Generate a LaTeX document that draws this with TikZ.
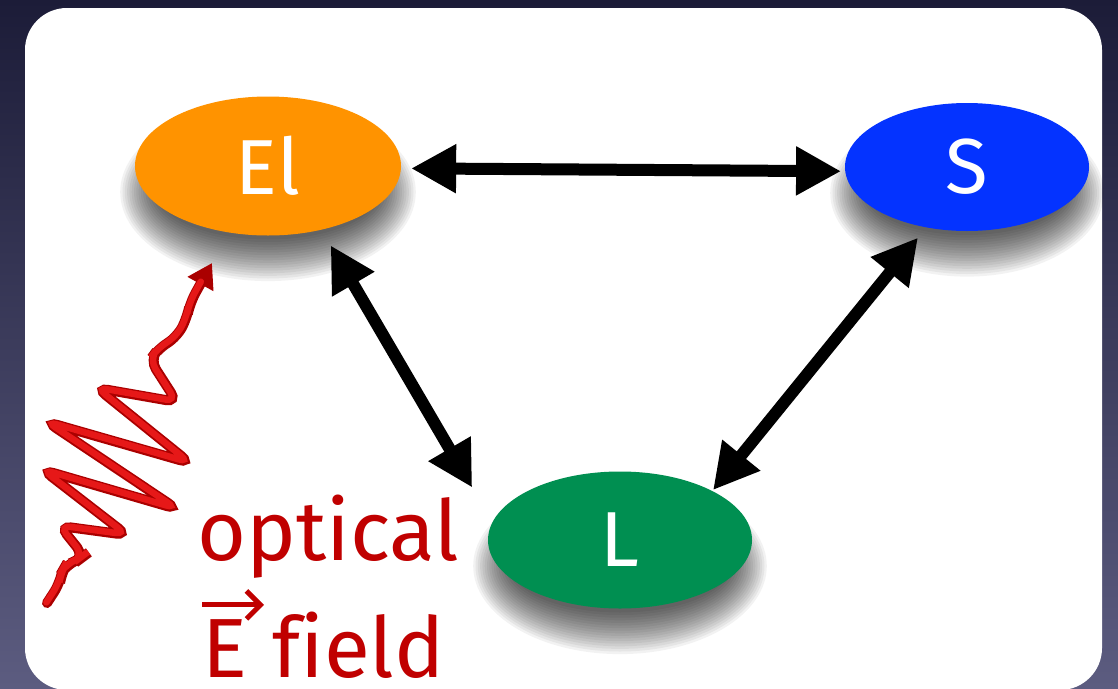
\documentclass[tikz,border=0pt]{standalone}
\usepackage{fontspec}
\setmainfont{Fira Sans}[Ligatures=NoCommon]
\usetikzlibrary{arrows.meta,shapes.geometric}
\definecolor{elorange}{RGB}{255,147,0}
\definecolor{sblue}{RGB}{4,51,255}
\definecolor{lgreen}{RGB}{0,143,81}
\definecolor{txtred}{RGB}{192,0,0}
\definecolor{bgtop}{RGB}{28,28,56}
\definecolor{bgbot}{RGB}{92,92,128}
\definecolor{wavedark}{RGB}{170,0,0}
\definecolor{wavemid}{RGB}{230,24,24}
\begin{document}
\begin{tikzpicture}[x=1pt,y=-1pt,
  blob/.style={ellipse, inner sep=0pt, text=white, font=\fontsize{78}{80}\selectfont},
  shadowlayer/.style={fill=black, opacity=0.05},
  dbl/.style={line width=12pt, {Triangle[length=45pt,width=46pt]}-{Triangle[length=45pt,width=46pt]}},
  lbl/.style={text=txtred, font=\fontsize{84}{90}\selectfont, inner sep=0pt, anchor=base west}]
\useasboundingbox (0,0) rectangle (1118,688);
\shade[top color=bgtop, bottom color=bgbot] (0,0) rectangle (1118,688);
\fill[white, rounded corners=42pt] (25,8) rectangle (1102,690);
% soft drop shadows of the ellipses
\foreach \cx/\cy/\a/\b in {268/166/133/69.5, 967/167/122/64, 620/540/132/68.5}{
  \foreach \i in {0,...,16}{
    \fill[shadowlayer] (\cx,\cy+26) ellipse [x radius=\a-22+2.3*\i, y radius=\b-22+2.6*\i];
  }
}
\node[blob, fill=elorange, minimum width=266pt, minimum height=139pt] (El) at (268,166) {El};
\node[blob, fill=sblue, minimum width=244pt, minimum height=128pt] (S) at (967,167) {S};
\node[blob, fill=lgreen, minimum width=264pt, minimum height=137pt] (L) at (620,540) {L};
\draw[dbl, shorten <=10pt, shorten >=4pt] (El.-1) -- (S.182.5);
\draw[dbl, shorten <=18pt, shorten >=40pt] (El.-50) -- (L.172);
\draw[dbl, shorten <=13pt, shorten >=1pt] (S.-124.5) -- (L.28);
\node[lbl] (opt) at (197,560) {optical};
\node[lbl] (E) at (202,677) {E};
\node[lbl] (fld) at (272,677) {field};
\draw[txtred, line width=5pt, -{Straight Barb[length=14pt,width=28pt]}] ([yshift=14pt]E.north west) -- ++(62,0);
\draw[wavedark, line width=10pt, line cap=round, rounded corners=11pt, -{Triangle[length=24pt,width=28pt]}]
  (47,603) -- (60,583) -- (62,572) -- (66,565) -- (80,559) -- (84,556) -- (60,526) -- (127,535) -- (43,470) -- (177,509) -- (47,422) -- (190,463) -- (97,388) -- (177,402) -- (150,360) -- (158,349) -- (177,337) -- (187,318) -- (190,303) -- (212,263);
\draw[wavemid, line width=6.5pt, line cap=round, rounded corners=11pt, shorten >=22pt]
  (46.4,602.4) -- (59.4,582.4) -- (61.4,571.4) -- (65.4,564.4) -- (79.4,558.4) -- (83.4,555.4) -- (59.4,525.4) -- (126.4,534.4) -- (42.4,469.4) -- (176.4,508.4) -- (46.4,421.4) -- (189.4,462.4) -- (96.4,387.4) -- (176.4,401.4) -- (149.4,359.4) -- (157.4,348.4) -- (176.4,336.4) -- (186.4,317.4) -- (189.4,302.4) -- (211.4,262.4);
\end{tikzpicture}
\end{document}
